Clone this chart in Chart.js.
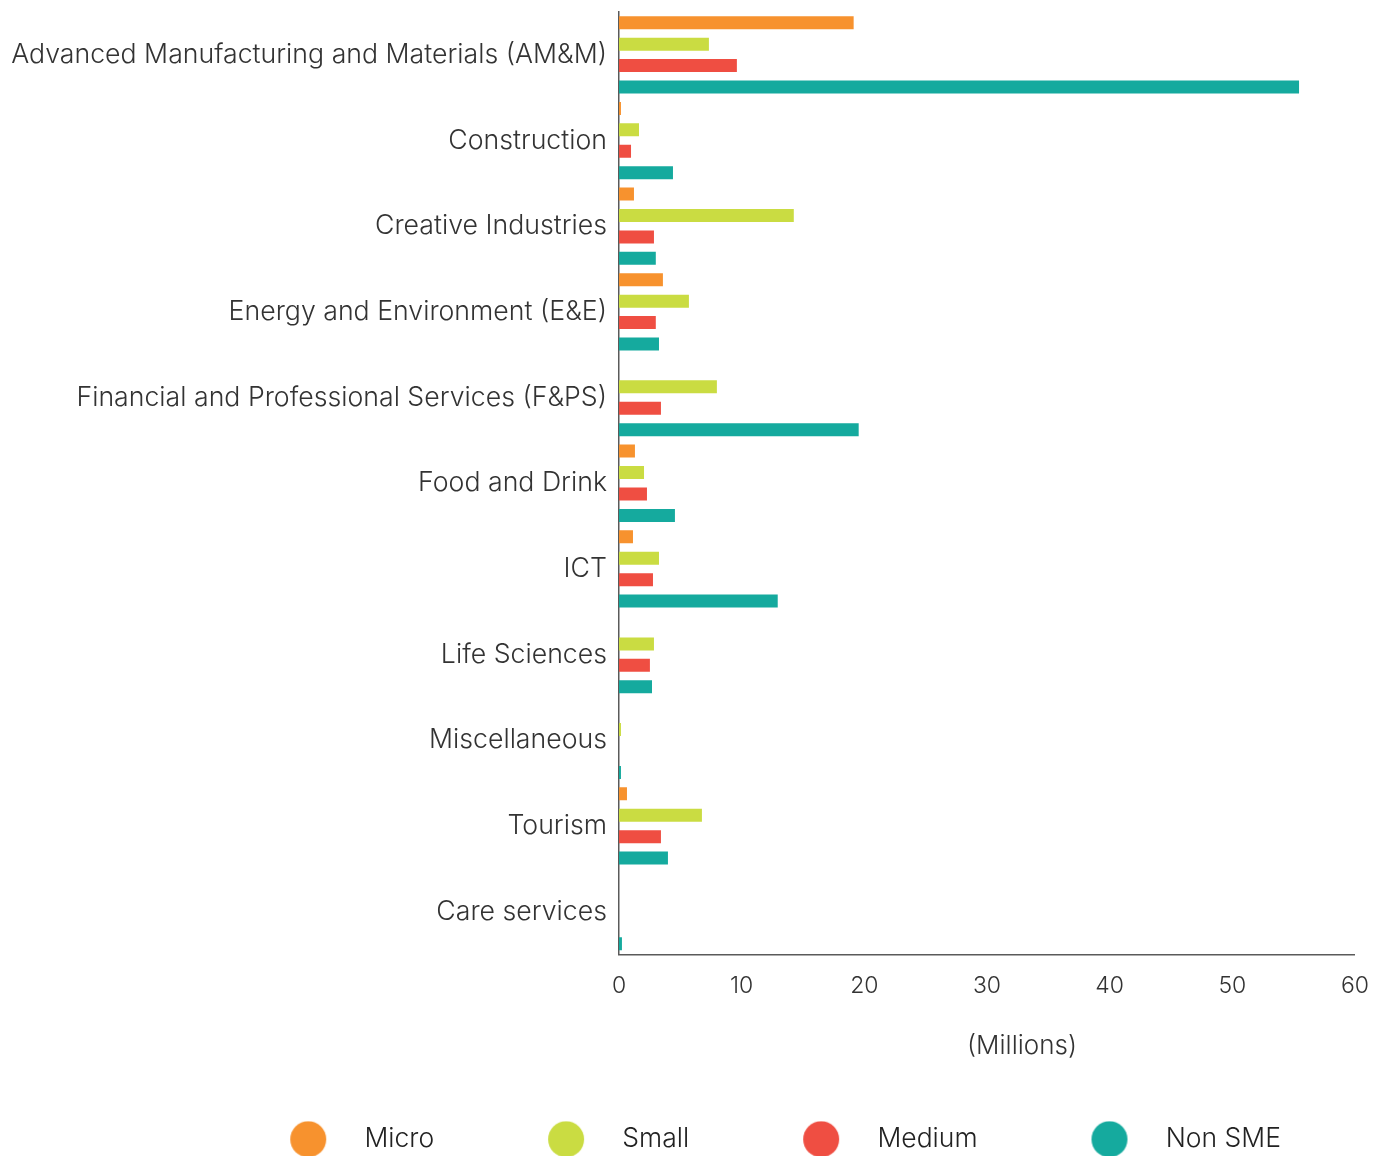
<!DOCTYPE html>
<html>
<head>
<meta charset="utf-8">
<script src="https://cdn.jsdelivr.net/npm/chart.js@4.4.1/dist/chart.umd.min.js"></script>
<style>
    body { margin: 0; background: #fff; }
</style>
</head>
<body>
<canvas id="sectorChart" width="1387" height="1156"></canvas>
<script>
// Data (values in millions)
const sectors = [
    'Advanced Manufacturing and Materials (AM&M)',
    'Construction',
    'Creative Industries',
    'Energy and Environment (E&E)',
    'Financial and Professional Services (F&PS)',
    'Food and Drink',
    'ICT',
    'Life Sciences',
    'Miscellaneous',
    'Tourism',
    'Care services'
];
const micro  = [19.13, 0.16, 1.22, 3.58, 0, 1.30, 1.14, 0, 0, 0.65, 0];
const small  = [7.33, 1.63, 14.25, 5.70, 7.98, 2.04, 3.26, 2.85, 0.16, 6.76, 0];
const medium = [9.61, 0.98, 2.85, 3.00, 3.42, 2.28, 2.77, 2.52, 0, 3.42, 0];
const nonSme = [55.44, 4.40, 3.00, 3.26, 19.54, 4.56, 12.94, 2.69, 0.16, 3.99, 0.24];
const xTicks = [0, 10, 20, 30, 40, 50, 60];

const colors = ['#F7922E', '#CADC42', '#EF4E42', '#15AA9E'];
const fontFamily = 'Inter, "Helvetica Neue", Arial, sans-serif';

// Legend markers: dot with blank room on the left so items spread out
const DOT_W = 100;
function makeDot(color) {
    const c = document.createElement('canvas');
    c.width = DOT_W;
    c.height = 37;
    const g = c.getContext('2d');
    g.fillStyle = color;
    g.beginPath();
    g.arc(39 + 18, 18.5, 18, 0, Math.PI * 2);
    g.fill();
    return c;
}
const legendDots = colors.map(makeDot);

// Axis caption
const millionsLabel = {
    id: 'millionsLabel',
    afterDraw(chart) {
        const { ctx, chartArea } = chart;
        ctx.save();
        ctx.font = '300 26px ' + fontFamily;
        ctx.fillStyle = '#333';
        ctx.textAlign = 'center';
        ctx.textBaseline = 'middle';
        ctx.fillText('(Millions)', chartArea.left + 403, chartArea.bottom + 92);
        ctx.restore();
    }
};

const ctx = document.getElementById('sectorChart').getContext('2d');
const sectorChart = new Chart(ctx, {
    type: 'bar',
    data: {
        labels: sectors,
        datasets: [
            { label: 'Micro', data: micro, backgroundColor: colors[0] },
            { label: 'Small', data: small, backgroundColor: colors[1] },
            { label: 'Medium', data: medium, backgroundColor: colors[2] },
            { label: 'Non SME', data: nonSme, backgroundColor: colors[3] }
        ]
    },
    options: {
        indexAxis: 'y',
        responsive: false,
        animation: false,
        categoryPercentage: 1.0,
        barPercentage: 0.607,
        layout: {
            padding: { left: 10, right: 31, top: 12, bottom: -6.5 }
        },
        plugins: {
            tooltip: { enabled: false },
            legend: {
                position: 'bottom',
                align: 'end',
                labels: {
                    usePointStyle: true,
                    pointStyleWidth: DOT_W,
                    padding: 75,
                    color: '#222',
                    font: { family: fontFamily, size: 26.5, weight: '300' },
                    generateLabels: (chart) =>
                        Chart.defaults.plugins.legend.labels.generateLabels(chart)
                            .map((item, i) => ({ ...item, pointStyle: legendDots[i] }))
                }
            }
        },
        scales: {
            x: {
                min: xTicks[0],
                max: xTicks[xTicks.length - 1],
                afterBuildTicks: (scale) => {
                    scale.ticks = xTicks.map(v => ({ value: v }));
                },
                afterFit: (scale) => { scale.height = 96.5; },
                grid: { display: false, drawTicks: false },
                border: { display: true, color: '#5a5a5a', width: 1.5 },
                ticks: {
                    color: '#333',
                    padding: 18,
                    font: { family: fontFamily, size: 23, weight: '300' }
                }
            },
            y: {
                afterFit: (scale) => {
                    scale.width = 619 - 10;
                    scale.paddingTop = 0;
                    scale.paddingBottom = 0;
                },
                grid: { display: false, drawTicks: false },
                border: { display: true, color: '#5a5a5a', width: 1.5 },
                ticks: {
                    color: '#333',
                    padding: 12,
                    font: { family: fontFamily, size: 26.7, weight: '300' }
                }
            }
        }
    },
    plugins: [millionsLabel]
});
</script>
</body>
</html>
